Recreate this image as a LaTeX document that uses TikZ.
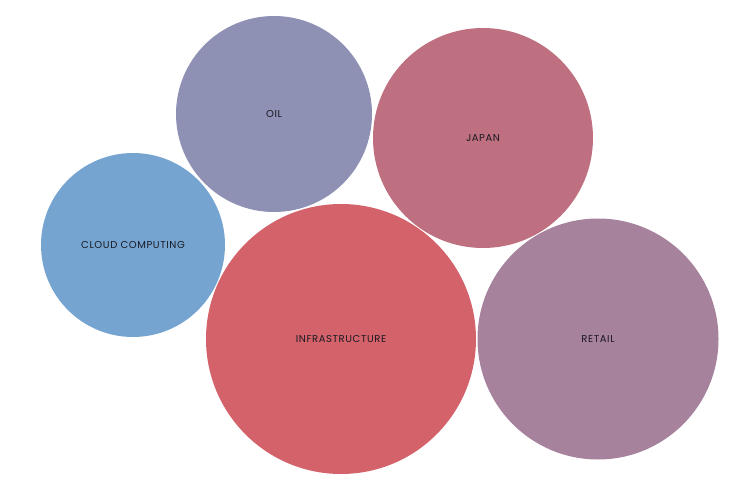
\documentclass[tikz,border=0pt]{standalone}
\usepackage{fontspec}
\newfontfamily\bubblefont[LetterSpace=6]{Poppins}
\definecolor{oilc}{HTML}{8E90B4}
\definecolor{japanc}{HTML}{BF7080}
\definecolor{cloudc}{HTML}{75A4D0}
\definecolor{infrac}{HTML}{D4626B}
\definecolor{retailc}{HTML}{A6829C}
\definecolor{labelc}{HTML}{1A1A22}
\tikzset{bubble/.style={circle, inner sep=0pt, text=labelc, font=\bubblefont\fontsize{10}{12}\selectfont}}

\begin{document}
\begin{tikzpicture}[x=1pt,y=-1pt]
\useasboundingbox (0,0) rectangle (750,487);
\node[bubble, fill=oilc, minimum size=196pt] (oil) at (274,114) {OIL};
\node[bubble, fill=japanc, minimum size=220pt] (japan) at (483,138) {JAPAN};
\node[bubble, fill=cloudc, minimum size=184pt] (cloud) at (133,245) {CLOUD COMPUTING};
\node[bubble, fill=infrac, minimum size=270pt] (infra) at (341,339) {INFRASTRUCTURE};
\node[bubble, fill=retailc, minimum size=241pt] (retail) at (598,339) {RETAIL};
\end{tikzpicture}
\end{document}
